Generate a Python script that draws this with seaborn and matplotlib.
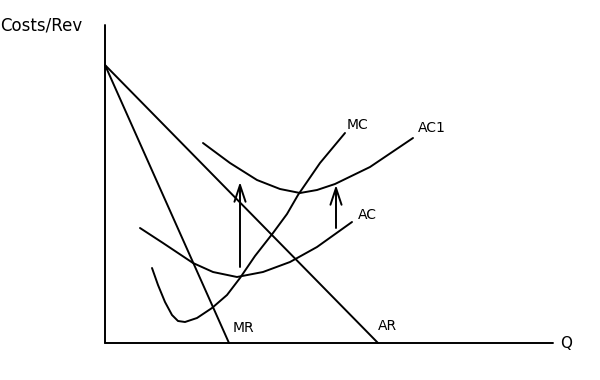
import matplotlib
matplotlib.use("Agg")
import matplotlib.pyplot as plt
import seaborn as sns

# Data (quantity q, cost/revenue p)
ar_q = [0, 273]
ar_p = [278, 0]
mr_q = [0, 124]
mr_p = [278, 0]
mc_q = [47, 53, 60, 67, 73, 80, 92, 107, 122, 135, 150, 168, 182, 193, 215, 240]
mc_p = [75, 58, 41, 28, 22, 21, 25, 35, 48, 65, 87, 110, 129, 148, 180, 210]
ac_q = [35, 58, 88, 108, 132, 158, 185, 212, 247]
ac_p = [115, 100, 80, 71, 66, 71, 81, 96, 121]
ac1_q = [98, 125, 152, 175, 195, 212, 230, 265, 308]
ac1_p = [200, 180, 163, 154, 150, 153, 159, 176, 205]
arrow_q = [135, 231]
arrow_from = [76, 115]
arrow_to = [161, 158]
labels = ["MC", "AC1", "AC", "MR", "AR"]
label_q = [242, 313, 253, 128, 273]
label_p = [218, 215, 128, 15, 17]

sns.set_style("white")
plt.rcParams['font.family'] = ['DejaVu Sans']

fig = plt.figure(figsize=(6, 3.8), dpi=100)
ax = fig.add_axes([0, 0, 1, 1])
ax.set_xlim(-105, 495)
ax.set_ylim(-37, 343)
ax.axis("off")

kw = dict(color="black", linewidth=1.4, sort=False, estimator=None,
          ax=ax, legend=False)
# axes
sns.lineplot(x=[0, 0], y=[0, 318], **kw)
sns.lineplot(x=[0, 448], y=[0, 0], **kw)
# curves
sns.lineplot(x=ar_q, y=ar_p, **kw)
sns.lineplot(x=mr_q, y=mr_p, **kw)
sns.lineplot(x=mc_q, y=mc_p, **kw)
sns.lineplot(x=ac_q, y=ac_p, **kw)
sns.lineplot(x=ac1_q, y=ac1_p, **kw)
for line in ax.lines:
    line.set_solid_joinstyle("round")
    line.set_solid_capstyle("round")

for q, a, b in zip(arrow_q, arrow_from, arrow_to):
    ax.annotate("", xy=(q, b), xytext=(q, a),
                arrowprops=dict(arrowstyle="->,head_length=1.2,head_width=0.4",
                                color="black", lw=1.4, shrinkA=0, shrinkB=0))

for t, q, p in zip(labels, label_q, label_p):
    ax.text(q, p, t, fontsize=10, ha="left", va="center", color="black")

ax.text(-105, 318, "Costs/Rev", fontsize=12, ha="left", va="center", color="black")
ax.text(455, -1, "Q", fontsize=11, ha="left", va="center", color="black")

fig.savefig("out.png", dpi=100)
